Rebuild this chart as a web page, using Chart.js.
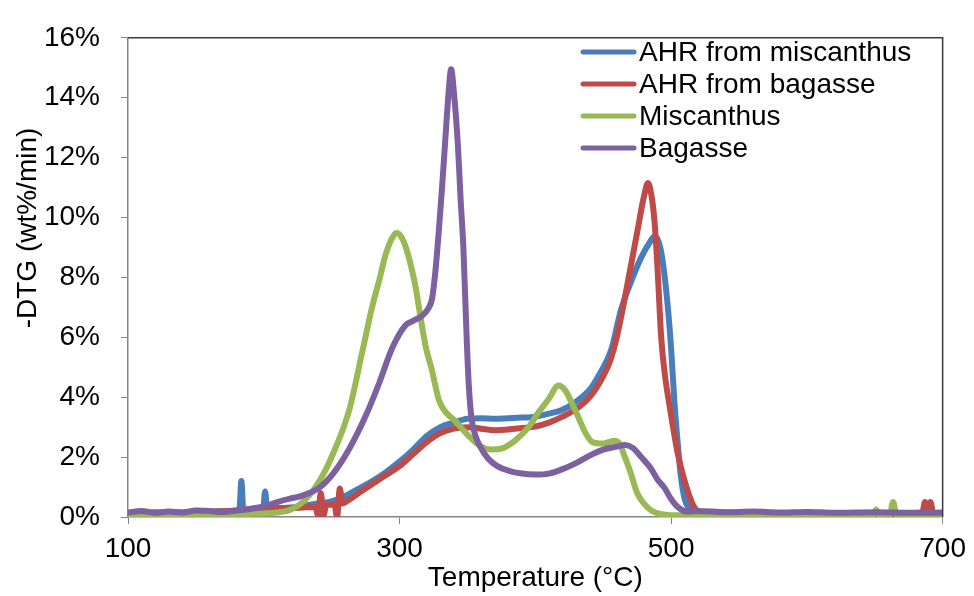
<!DOCTYPE html>
<html>
<head>
<meta charset="utf-8">
<script src="https://cdn.jsdelivr.net/npm/chart.js@4/dist/chart.umd.min.js"></script>
<style>
  html, body { margin: 0; padding: 0; background: #fff; }
  #wrap { width: 974px; height: 596px; position: relative; }
</style>
</head>
<body>
<div id="wrap"><canvas id="dtgChart"></canvas></div>
<script>
// series labels
const seriesNames = ['AHR from miscanthus', 'AHR from bagasse', 'Miscanthus', 'Bagasse'];

// AHR from miscanthus (blue)
const ahrMiscT = [100, 120, 140, 160, 178, 182, 183.5, 185, 195, 199.5, 201, 202.5, 210, 220, 230, 240, 250, 260, 270, 280, 290, 300, 310, 320, 330, 340, 350, 360, 370, 380, 390, 400, 410, 420, 430, 440, 446, 456, 463, 470, 478, 484, 488, 492, 495, 498, 500, 502.5, 505, 507, 510, 513, 518, 540, 570, 600, 640, 680, 700];
const ahrMiscY = [0.12, 0.16, 0.13, 0.17, 0.2, 0.2, 1.2, 0.2, 0.24, 0.24, 0.85, 0.25, 0.28, 0.32, 0.38, 0.45, 0.52, 0.7, 0.95, 1.2, 1.5, 1.85, 2.25, 2.7, 3.0, 3.15, 3.28, 3.3, 3.28, 3.3, 3.32, 3.35, 3.45, 3.58, 3.85, 4.25, 4.67, 5.6, 6.9, 7.8, 8.67, 9.15, 9.37, 9.0, 8.13, 6.8, 5.64, 3.8, 2.4, 1.43, 0.6, 0.3, 0.15, 0.15, 0.12, 0.13, 0.12, 0.12, 0.1];

// AHR from bagasse (red)
const ahrBagT = [100, 140, 180, 200, 220, 238, 240, 242, 244, 246, 252, 254, 256, 258, 262, 270, 280, 290, 300, 310, 320, 330, 340, 350, 360, 370, 380, 390, 400, 410, 420, 430, 440, 450, 455, 460, 465, 470, 475, 480, 483, 486, 488, 490, 492.7, 495, 500, 505, 510, 517, 524, 560, 600, 650, 685, 687, 689, 691, 693, 695, 700];
const ahrBagY = [0.12, 0.15, 0.22, 0.3, 0.3, 0.33, 0.05, 0.8, 0.05, 0.4, 0.42, 0.0, 0.95, 0.45, 0.55, 0.8, 1.1, 1.4, 1.7, 2.1, 2.5, 2.8, 2.95, 3.0, 2.95, 2.9, 2.92, 2.97, 3.02, 3.15, 3.35, 3.6, 4.0, 4.7, 5.2, 6.0, 7.1, 8.3, 9.5, 10.7, 11.15, 10.6, 9.75, 8.3, 6.0, 4.9, 3.4, 2.1, 1.2, 0.33, 0.15, 0.12, 0.12, 0.12, 0.15, 0.5, 0.15, 0.5, 0.15, 0.12, 0.1];

// Miscanthus (green)
const miscT = [100, 150, 200, 210, 220, 230, 241, 250.6, 263, 272.6, 280, 285, 290, 295, 298, 302, 306, 311.7, 315, 319, 324, 329, 335, 340, 350, 360, 368, 375, 385, 395, 402, 410, 417, 422, 427, 432, 437, 442, 450, 458, 462, 466, 470, 475, 480, 486, 492, 500, 600, 649, 651, 653, 661, 663.5, 666, 700];
const miscY = [0.1, 0.1, 0.12, 0.15, 0.25, 0.55, 1.2, 2.07, 3.58, 5.53, 7.05, 7.9, 8.8, 9.35, 9.48, 9.3, 8.8, 7.7, 6.8, 5.75, 4.87, 3.9, 3.45, 3.25, 2.75, 2.35, 2.25, 2.28, 2.55, 3.0, 3.47, 3.95, 4.39, 4.23, 3.8, 3.3, 2.8, 2.5, 2.45, 2.55, 2.45, 2.0, 1.5, 0.8, 0.45, 0.2, 0.1, 0.06, 0.08, 0.08, 0.25, 0.08, 0.08, 0.5, 0.08, 0.06];

// Bagasse (purple)
const bagT = [100, 110, 120, 130, 140, 150, 160, 170, 180, 190, 200, 210, 220, 226, 241, 250.6, 263, 275, 284.8, 294.6, 304.4, 310, 316.6, 321, 324, 326.4, 329, 331.3, 333.7, 336, 338, 340, 343, 345, 347, 349.5, 351, 353, 356, 360, 365, 372, 380, 390, 400, 410, 420, 430, 440, 450, 460, 466, 472, 478, 485, 490, 495, 500, 505, 512, 520, 540, 560, 580, 600, 620, 650, 680, 700];
const bagY = [0.15, 0.2, 0.14, 0.18, 0.15, 0.22, 0.2, 0.17, 0.22, 0.27, 0.35, 0.5, 0.62, 0.68, 0.98, 1.42, 2.28, 3.37, 4.45, 5.64, 6.4, 6.55, 6.72, 6.95, 7.3, 8.2, 9.6, 11.0, 12.6, 14.1, 14.95, 14.2, 12.4, 10.6, 9.0, 5.9, 4.4, 3.3, 2.7, 2.3, 1.96, 1.7, 1.55, 1.45, 1.42, 1.45, 1.6, 1.8, 2.05, 2.25, 2.35, 2.4, 2.3, 2.0, 1.63, 1.25, 0.98, 0.6, 0.33, 0.18, 0.2, 0.16, 0.18, 0.15, 0.17, 0.14, 0.16, 0.14, 0.15];

const seriesColors = ['#4A7EBB', '#BE4B48', '#98B954', '#7D60A0'];
const xTicks = [100, 300, 500, 700];
const yTicks = [0, 2, 4, 6, 8, 10, 12, 14, 16];

const FONT = '"Liberation Sans", Arial, sans-serif';
const FSIZE = 28;

function pts(xs, ys) {
    return xs.map((x, i) => ({ x: x, y: ys[i] }));
}

// legend in the upper right of the plot, Excel style
const insideLegend = {
    id: 'insideLegend',
    afterDraw(chart) {
        const c = chart.ctx;
        const a = chart.chartArea;
        c.save();
        // dark frame on top and right of the plot area
        c.strokeStyle = '#3a3a3a';
        c.lineWidth = 1.5;
        c.beginPath();
        c.moveTo(a.left, a.top);
        c.lineTo(a.right, a.top);
        c.lineTo(a.right, a.bottom);
        c.stroke();

        c.font = FSIZE + 'px ' + FONT;
        c.textBaseline = 'middle';
        c.textAlign = 'left';
        chart.data.datasets.forEach((ds, i) => {
            const y = 52 + i * 32;
            c.strokeStyle = ds.borderColor;
            c.lineWidth = 5;
            c.lineCap = 'round';
            c.beginPath();
            c.moveTo(583, y);
            c.lineTo(634, y);
            c.stroke();
            c.fillStyle = '#000';
            c.fillText(ds.label, 639, y + 1);
        });

        // y axis title
        c.translate(28, 228);
        c.rotate(-Math.PI / 2);
        c.textAlign = 'center';
        c.fillText('-DTG (wt%/min)', 0, 0);
        c.restore();
    }
};

const ctx = document.getElementById('dtgChart').getContext('2d');
const chart = new Chart(ctx, {
    type: 'line',
    data: {
        datasets: [
            { label: seriesNames[0], data: pts(ahrMiscT, ahrMiscY), order: 4 },
            { label: seriesNames[1], data: pts(ahrBagT, ahrBagY), order: 3 },
            { label: seriesNames[2], data: pts(miscT, miscY), order: 2 },
            { label: seriesNames[3], data: pts(bagT, bagY), order: 1 }
        ].map((d, i) => Object.assign(d, {
            borderColor: seriesColors[i],
            backgroundColor: seriesColors[i],
            borderWidth: 6,
            pointRadius: 0,
            cubicInterpolationMode: 'monotone',
            fill: false,
            borderCapStyle: 'round',
            borderJoinStyle: 'round'
        }))
    },
    plugins: [insideLegend],
    options: {
        responsive: true,
        maintainAspectRatio: false,
        animation: false,
        layout: { padding: { top: 24, right: 30, left: 0, bottom: 0 } },
        plugins: {
            legend: { display: false },
            tooltip: { enabled: false }
        },
        scales: {
            x: {
                type: 'linear',
                min: 100,
                max: 700,
                afterFit: s => { s.height = 79; },
                afterBuildTicks: s => { s.ticks = xTicks.map(v => ({ value: v })); },
                grid: { drawOnChartArea: false, tickLength: 7, color: '#868686' },
                border: { color: '#868686', width: 1.5 },
                ticks: { color: '#000', font: { family: FONT, size: FSIZE }, padding: 8, maxRotation: 0 },
                title: {
                    display: true,
                    text: 'Temperature (°C)',
                    color: '#000',
                    font: { family: FONT, size: FSIZE },
                    padding: { top: 0, bottom: 1 }
                }
            },
            y: {
                min: 0,
                max: 16,
                afterFit: s => { s.width = 128; },
                afterBuildTicks: s => { s.ticks = yTicks.map(v => ({ value: v })); },
                grid: { drawOnChartArea: false, tickLength: 7, color: '#868686' },
                border: { color: '#868686', width: 1.5 },
                ticks: {
                    color: '#000',
                    font: { family: FONT, size: FSIZE },
                    padding: 21,
                    callback: v => v + '%'
                }
            }
        }
    }
});
</script>
</body>
</html>
